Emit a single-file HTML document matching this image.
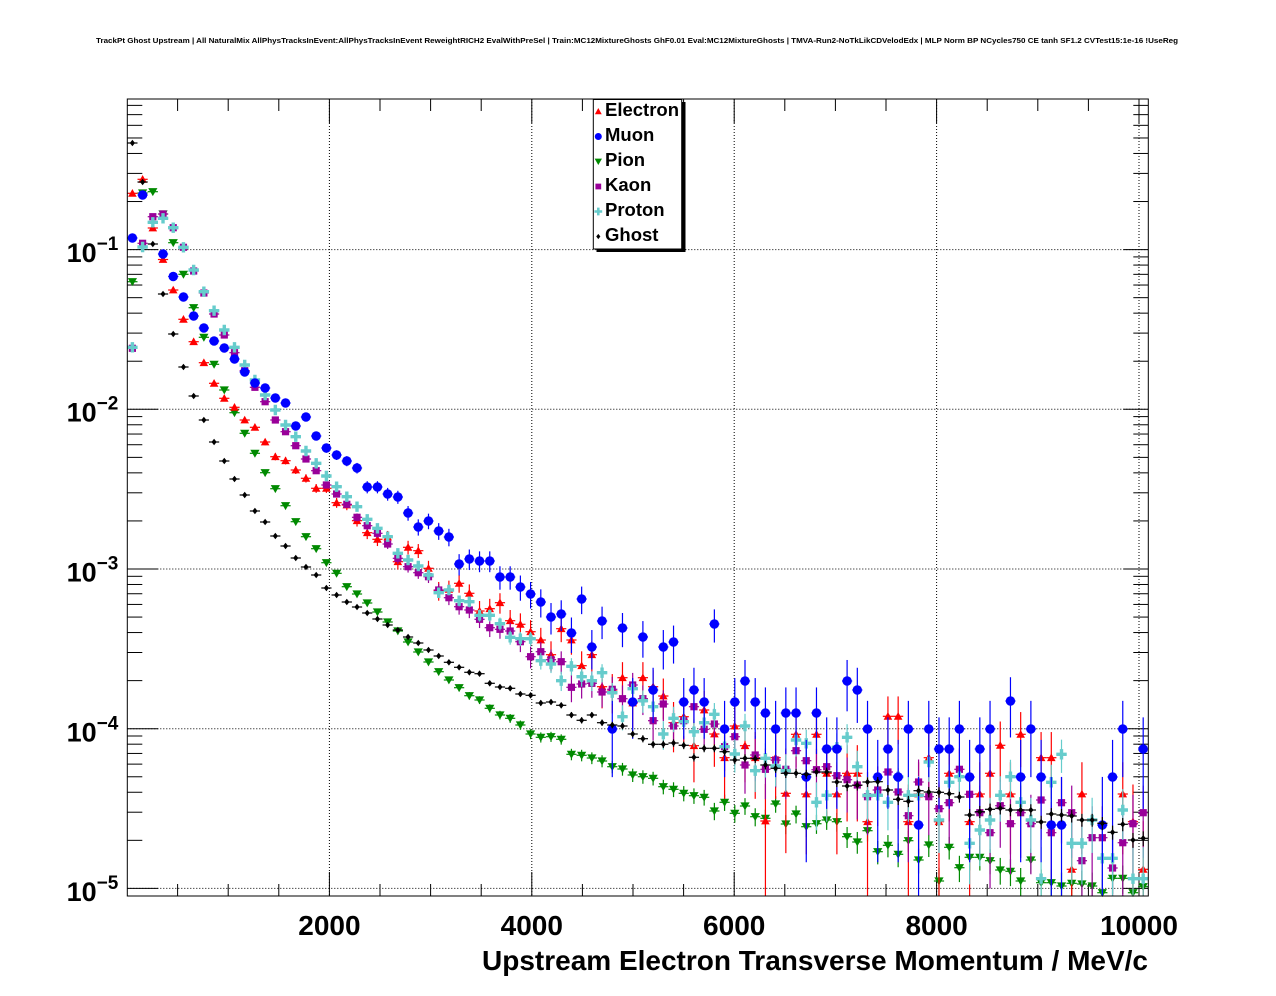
<!DOCTYPE html>
<html><head><meta charset="utf-8">
<style>
html,body{margin:0;padding:0;background:#fff;}
svg{display:block;}
text{font-family:"Liberation Sans",Arial,sans-serif;font-weight:bold;fill:#000;}
</style></head>
<body>
<svg id="plot" width="1276" height="996" viewBox="0 0 1276 996" xmlns="http://www.w3.org/2000/svg">
<rect x="0" y="0" width="1276" height="996" fill="#fff"/>
<text x="96" y="43" font-size="7.5" textLength="1082" lengthAdjust="spacingAndGlyphs">TrackPt Ghost Upstream | All NaturalMix AllPhysTracksInEvent:AllPhysTracksInEvent ReweightRICH2 EvalWithPreSel | Train:MC12MixtureGhosts GhF0.01 Eval:MC12MixtureGhosts | TMVA-Run2-NoTkLikCDVelodEdx | MLP Norm BP NCycles750 CE tanh SF1.2 CVTest15:1e-16 !UseReg</text>
<g id="grid"></g>
<g id="ticks"></g>
<g id="data"></g>
<rect x="127.3" y="99" width="1021" height="797" fill="none" stroke="#000" stroke-width="1"/>
<g font-size="28">
<text x="329.4" y="935" text-anchor="middle" font-size="28">2000</text>
<text x="531.8" y="935" text-anchor="middle" font-size="28">4000</text>
<text x="734.2" y="935" text-anchor="middle" font-size="28">6000</text>
<text x="936.6" y="935" text-anchor="middle" font-size="28">8000</text>
<text x="1139" y="935" text-anchor="middle" font-size="28">10000</text>
<text x="1148" y="970" text-anchor="end" font-size="28">Upstream Electron Transverse Momentum / MeV/c</text>
</g>
<g>
<text x="118.3" y="262" text-anchor="end" font-size="27">10<tspan dy="-12" font-size="19">−1</tspan></text>
<text x="118.3" y="421.7" text-anchor="end" font-size="27">10<tspan dy="-12" font-size="19">−2</tspan></text>
<text x="118.3" y="581.5" text-anchor="end" font-size="27">10<tspan dy="-12" font-size="19">−3</tspan></text>
<text x="118.3" y="741.3" text-anchor="end" font-size="27">10<tspan dy="-12" font-size="19">−4</tspan></text>
<text x="118.3" y="901" text-anchor="end" font-size="27">10<tspan dy="-12" font-size="19">−5</tspan></text>
</g>
<rect x="596.5" y="102" width="89" height="150" fill="#000"/>
<rect x="593.3" y="99.5" width="88.4" height="149.5" fill="#fff" stroke="#000" stroke-width="1"/>
<g id="legmk"></g>
<text x="605" y="116" font-size="18.5">Electron</text>
<text x="605" y="141" font-size="18.5">Muon</text>
<text x="605" y="166" font-size="18.5">Pion</text>
<text x="605" y="191" font-size="18.5">Kaon</text>
<text x="605" y="216" font-size="18.5">Proton</text>
<text x="605" y="241" font-size="18.5">Ghost</text>
</svg>
<script>
(function(){
const NS='http://www.w3.org/2000/svg';
function el(tag,attrs,parent){const e=document.createElementNS(NS,tag);for(const k in attrs)e.setAttribute(k,attrs[k]);parent.appendChild(e);return e;}
const gGrid=document.getElementById('grid'),gT=document.getElementById('ticks'),gD=document.getElementById('data'),gL=document.getElementById('legmk');
const X0=127.3,X1=1148.3,Y0=99,Y1=896;
function xv(v){return 127.0+v*0.1012;}
function yv(v){return 249.6-159.7*(Math.log10(v)+1);}
for(let v=2000;v<=10000;v+=2000){const x=xv(v);el('line',{x1:x,x2:x,y1:Y0,y2:Y1,stroke:'#000','stroke-width':1,'stroke-dasharray':'1 2'},gGrid);}
for(let d=-5;d<=-1;d++){const y=yv(Math.pow(10,d));el('line',{x1:X0,x2:X1,y1:y,y2:y,stroke:'#000','stroke-width':1,'stroke-dasharray':'1 2'},gGrid);}
for(let v=500;v<=10100;v+=500){const x=xv(v);if(x>X1)continue;const L=(v%2000===0)?24:12;
 el('line',{x1:x,x2:x,y1:Y1,y2:Y1-L,stroke:'#000','stroke-width':1},gT);
 el('line',{x1:x,x2:x,y1:Y0,y2:Y0+L,stroke:'#000','stroke-width':1},gT);}
for(let d=-6;d<=0;d++){for(let m=1;m<=9;m++){const y=yv(m*Math.pow(10,d));if(y<Y0||y>Y1-0.5)continue;const L=(m===1)?31:15;
 el('line',{x1:X0,x2:X0+L,y1:y,y2:y,stroke:'#000','stroke-width':1},gT);
 el('line',{x1:X1,x2:X1-(m===1?25:15),y1:y,y2:y,stroke:'#000','stroke-width':1},gT);}}
const N=null;
const red=[193.3,179.3,228,259.5,290,319.3,341.7,362.7,383.3,398.3,407.3,420,427.3,442,456.7,460.7,470,478.3,488.3,488.3,502.7,505,520.7,532.7,539.3,537,561.7,547.3,550.7,568.3,590.7,589.3,583.3,593.3,611,608.7,602.7,620.7,624.3,631.7,640,654.7,628.7,640,665.7,654.7,686.7,691,677.7,703,677.7,686.7,696,722.7,716.7,745.7,710,734,757.7,726,745.7,757.7,821,757.7,793.3,734.3,794,734.3,773.3,794,773.3,773.3,821.7,N,716.3,716.3,821.7,794,757.7,821.7,773.3,N,821.7,794,773.3,745.3,794,734.3,N,757.7,757.7,N,869.3,794,N,N,N,794,821.7,869.3];
const blue=[238,195,N,254,276.5,297,316,328,341,348,359,372,383,388,398,403,426,417,436,448,455,461,468,487,487,494,497,513,527,521,531,537,564,559,561,561,577,577,587,594,602,617,614,633,599,647,621,729,628,702,637,690,647,642,702,690,702,624,729,702,681,702,713,729,713,713,777,713,749,749,681,690,729,777,749,777,729,825,729,749,749,729,777,749,729,N,701,777,729,777,825,825,N,N,N,825,777,729,N,749];
const green=[281.7,193,191.7,214,242.7,274.3,307.7,337.3,364.3,390,412.7,433.3,453.3,472.7,488.7,505.7,521.7,536.7,548.7,562.7,573.3,586.7,594,603,612,622,631,642,652,662,671.7,680,687.7,695.7,700,708.3,715,718.3,725,734,737.3,736.7,739.3,754.3,755.3,758,761,766.7,769,775,776.7,778.3,786.7,789.3,793.3,795.7,797.3,811,802.3,813.3,806,816.7,818.3,804,824,814,826.7,823.7,820,821.7,836.7,842,830.7,851.7,845.3,854.3,840.7,860,845,881,847.3,867.7,857.3,857.3,860.7,870,871.3,881,860,882.7,882.7,886,883.3,884,886,892.7,878.3,878.3,892.7,886.7];
const purple=[348.3,243.3,216.7,214,227.7,247.3,271,293,314,335,352.7,370.7,387.3,401.7,420,431.7,445.7,459,470.7,485,494,504.3,517.3,525.7,533.3,544,558.3,566.7,572.7,576.7,590,597.7,606.7,610,619.3,627.7,629.3,631,641.7,656.7,651.7,659.7,661.7,687.3,684,683.3,692,689.3,698.7,685,698.7,720.7,704,726,720.7,706.7,729.3,724,746.7,736.7,765,755,769.3,760,769.3,750.7,760.7,769.7,766.7,775.7,779.7,785,796.7,790,772,792,815.7,782,796.7,808.7,802.7,769.3,794.3,812.7,832.7,805.7,823.7,812.7,823.7,800,832.7,802.7,812.7,860.7,837.7,837.7,868,842.7,823.7,812.7];
const cyan=[347.3,247,222.3,218.3,227.7,247.3,270,291.7,310.7,330,347.3,365,380,395,410,425,436.7,451,463.3,476,486.7,496.7,506.7,519.3,528.3,536.7,553.3,560,566,575,592.7,590,600.7,601.7,615.3,615.3,623.7,637.3,638.7,638.7,660.7,664,680.7,666.3,676.7,680.7,672.7,692.7,716.7,688.7,700.7,706.7,734,718.3,721.7,731.7,722.7,714.3,746.7,754,726,770.7,758.3,766,770.7,740,743.3,802.3,795.3,747.3,737.3,766.7,795.3,795.3,802.3,776.7,795.3,795.3,762,820,782.3,776.7,843.3,830,820,795.3,776.7,802.3,820,878.7,782.3,754.3,843.3,843.3,820,858.3,858.3,810,878.7,878.7];
const black=[143,182,244,294,334,367,396,420,442,461,479,495,511,522,536,546,558,567,575,588,595,602,607,613,619,625,630,637,643,650,656,662.3,667.3,672.3,673.7,683.3,687,688.3,694,695.3,703,702,705.3,715,720.3,715,722.7,725,726,734,738.7,744.3,744.3,743,745.3,757.3,748.3,748.3,751.7,760,758.3,758.7,765,768.3,773.3,773.3,774.3,772,772,782,786,785.3,782,781.7,790,799.3,801.3,790.7,792,792.3,793.7,797,815,811.7,809.3,808.3,810,810,810,822,814,815,816,820,820,823.3,832.3,824.3,840,838.3];
function marker(type,x,y,col,g){
 if(type==='tu'){el('path',{d:`M${x-4.3} ${y+3.4}L${x+4.3} ${y+3.4}L${x} ${y-4.3}Z`,fill:col},g);}
 else if(type==='td'){el('path',{d:`M${x-4.6} ${y-3.6}L${x+4.6} ${y-3.6}L${x} ${y+4.4}Z`,fill:col},g);}
 else if(type==='c'){el('circle',{cx:x,cy:y,r:4.7,fill:col},g);}
 else if(type==='s'){el('rect',{x:x-3.6,y:y-3.6,width:7.2,height:7.2,fill:col},g);}
 else if(type==='x'){const t=1.7,h=5.2;el('path',{d:`M${x-t} ${y-h}H${x+t}V${y-t}H${x+h}V${y+t}H${x+t}V${y+h}H${x-t}V${y+t}H${x-h}V${y-t}H${x-t}Z`,fill:col},g);}
 else if(type==='d'){el('path',{d:`M${x} ${y-3.3}L${x+2.6} ${y}L${x} ${y+3.3}L${x-2.6} ${y}Z`,fill:col},g);}
}
const series=[
 {d:green,c:'#008a00',m:'td',y1:1100},
 {d:red,c:'#ff0000',m:'tu',y1:869.3},
 {d:purple,c:'#990099',m:'s',y1:915},
 {d:cyan,c:'#66cccc',m:'x',y1:955},
 {d:blue,c:'#0000ff',m:'c',y1:825},
 {d:black,c:'#000000',m:'d',y1:1150}
];
series.forEach(s=>{
 const g=el('g',{},gD);
 for(let i=0;i<100;i++){const y=s.d[i];if(y===null||y===undefined)continue;
  const x=132.4+10.21*i;
  const n=Math.pow(10,(s.y1-y)/159.7),sq=Math.sqrt(n);
  let yu=s.y1-159.7*Math.log10(n+sq);
  let yd=(n-sq>0.0001)?s.y1-159.7*Math.log10(n-sq):Y1;
  yu=Math.max(Y0,yu);yd=Math.min(Y1,yd);
  el('line',{x1:x,x2:x,y1:yu,y2:yd,stroke:s.c,'stroke-width':1.2},g);
  el('line',{x1:x-5.1,x2:x+5.1,y1:y,y2:y,stroke:s.c,'stroke-width':1.2},g);
  marker(s.m,x,y,s.c,g);
 }
});
const lm=[['tu','#ff0000',111.5],['c','#0000ff',136.5],['td','#008a00',161.5],['s','#990099',186.5],['x','#66cccc',211.5],['d','#000000',236.5]];
lm.forEach(a=>{const sc=(a[0]==='c'||a[0]==='x')?0.75:0.8;const g=el('g',{transform:`translate(598.3 ${a[2]}) scale(${sc})`},gL);marker(a[0],0,0,a[1],g);});
})();
</script>
</body></html>
